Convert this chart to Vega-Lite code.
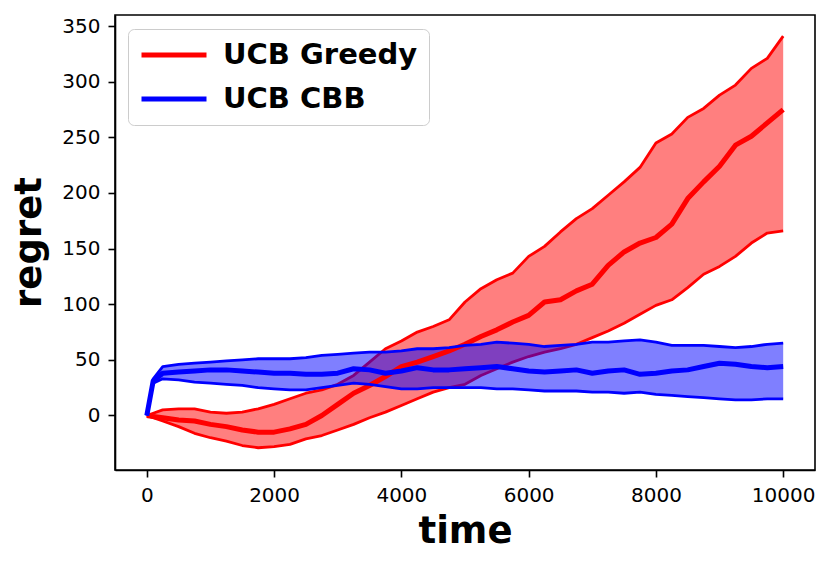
{
  "$schema": "https://vega.github.io/schema/vega-lite/v6.json",
  "width": 700,
  "height": 455,
  "autosize": "none",
  "padding": {"left": 115, "top": 15, "right": 16, "bottom": 95},
  "background": "white",
  "config": {
    "view": {"stroke": "black", "strokeWidth": 1.6},
    "font": "DejaVu Sans",
    "axis": {
      "grid": false,
      "domainColor": "black",
      "domainWidth": 1.6,
      "tickColor": "black",
      "tickWidth": 1.6,
      "tickSize": 7,
      "labelFont": "DejaVu Sans",
      "labelFontSize": 20,
      "labelColor": "black",
      "labelPadding": 8,
      "titleFont": "DejaVu Sans",
      "titleFontSize": 37,
      "titleFontWeight": "bold",
      "titleColor": "black"
    }
  },
  "data": {
    "values": [
      {"t": 0, "alg": "UCB Greedy", "mean": 0, "lo": 0, "hi": 0},
      {"t": 100, "alg": "UCB Greedy", "mean": -1, "lo": -2, "hi": 2},
      {"t": 250, "alg": "UCB Greedy", "mean": -2, "lo": -5, "hi": 5},
      {"t": 500, "alg": "UCB Greedy", "mean": -4, "lo": -10, "hi": 6},
      {"t": 750, "alg": "UCB Greedy", "mean": -5, "lo": -16, "hi": 6},
      {"t": 1000, "alg": "UCB Greedy", "mean": -8, "lo": -20, "hi": 3},
      {"t": 1250, "alg": "UCB Greedy", "mean": -10, "lo": -23, "hi": 2},
      {"t": 1500, "alg": "UCB Greedy", "mean": -13, "lo": -27, "hi": 3},
      {"t": 1750, "alg": "UCB Greedy", "mean": -15, "lo": -29, "hi": 6},
      {"t": 2000, "alg": "UCB Greedy", "mean": -15, "lo": -28, "hi": 10},
      {"t": 2250, "alg": "UCB Greedy", "mean": -12, "lo": -26, "hi": 15},
      {"t": 2500, "alg": "UCB Greedy", "mean": -8, "lo": -21, "hi": 20},
      {"t": 2750, "alg": "UCB Greedy", "mean": 0, "lo": -18, "hi": 23},
      {"t": 3000, "alg": "UCB Greedy", "mean": 10, "lo": -13, "hi": 28},
      {"t": 3250, "alg": "UCB Greedy", "mean": 20, "lo": -8, "hi": 36},
      {"t": 3500, "alg": "UCB Greedy", "mean": 27, "lo": -2, "hi": 48},
      {"t": 3750, "alg": "UCB Greedy", "mean": 35, "lo": 3, "hi": 60},
      {"t": 4000, "alg": "UCB Greedy", "mean": 44, "lo": 9, "hi": 67},
      {"t": 4250, "alg": "UCB Greedy", "mean": 48, "lo": 15, "hi": 75},
      {"t": 4500, "alg": "UCB Greedy", "mean": 53, "lo": 21, "hi": 80},
      {"t": 4750, "alg": "UCB Greedy", "mean": 58, "lo": 25, "hi": 86},
      {"t": 5000, "alg": "UCB Greedy", "mean": 64, "lo": 28, "hi": 102},
      {"t": 5250, "alg": "UCB Greedy", "mean": 71, "lo": 36, "hi": 114},
      {"t": 5500, "alg": "UCB Greedy", "mean": 77, "lo": 42, "hi": 122},
      {"t": 5750, "alg": "UCB Greedy", "mean": 84, "lo": 48, "hi": 128},
      {"t": 6000, "alg": "UCB Greedy", "mean": 90, "lo": 53, "hi": 143},
      {"t": 6250, "alg": "UCB Greedy", "mean": 102, "lo": 57, "hi": 152},
      {"t": 6500, "alg": "UCB Greedy", "mean": 104, "lo": 60, "hi": 165},
      {"t": 6750, "alg": "UCB Greedy", "mean": 112, "lo": 64, "hi": 177},
      {"t": 7000, "alg": "UCB Greedy", "mean": 118, "lo": 70, "hi": 186},
      {"t": 7250, "alg": "UCB Greedy", "mean": 135, "lo": 76, "hi": 198},
      {"t": 7500, "alg": "UCB Greedy", "mean": 147, "lo": 83, "hi": 210},
      {"t": 7750, "alg": "UCB Greedy", "mean": 155, "lo": 91, "hi": 223},
      {"t": 8000, "alg": "UCB Greedy", "mean": 160, "lo": 99, "hi": 245},
      {"t": 8250, "alg": "UCB Greedy", "mean": 172, "lo": 104, "hi": 253},
      {"t": 8500, "alg": "UCB Greedy", "mean": 195, "lo": 115, "hi": 268},
      {"t": 8750, "alg": "UCB Greedy", "mean": 210, "lo": 127, "hi": 276},
      {"t": 9000, "alg": "UCB Greedy", "mean": 224, "lo": 134, "hi": 288},
      {"t": 9250, "alg": "UCB Greedy", "mean": 243, "lo": 143, "hi": 297},
      {"t": 9500, "alg": "UCB Greedy", "mean": 251, "lo": 155, "hi": 312},
      {"t": 9750, "alg": "UCB Greedy", "mean": 263, "lo": 164, "hi": 321},
      {"t": 10000, "alg": "UCB Greedy", "mean": 275, "lo": 166, "hi": 341},
      {"t": 0, "alg": "UCB CBB", "mean": 0, "lo": 0, "hi": 0},
      {"t": 100, "alg": "UCB CBB", "mean": 31, "lo": 29, "hi": 33},
      {"t": 250, "alg": "UCB CBB", "mean": 38, "lo": 33, "hi": 44},
      {"t": 500, "alg": "UCB CBB", "mean": 39, "lo": 32, "hi": 46},
      {"t": 750, "alg": "UCB CBB", "mean": 40, "lo": 30, "hi": 47},
      {"t": 1000, "alg": "UCB CBB", "mean": 41, "lo": 29, "hi": 48},
      {"t": 1250, "alg": "UCB CBB", "mean": 41, "lo": 28, "hi": 49},
      {"t": 1500, "alg": "UCB CBB", "mean": 40, "lo": 27, "hi": 50},
      {"t": 1750, "alg": "UCB CBB", "mean": 39, "lo": 25, "hi": 51},
      {"t": 2000, "alg": "UCB CBB", "mean": 38, "lo": 24, "hi": 51},
      {"t": 2250, "alg": "UCB CBB", "mean": 38, "lo": 23, "hi": 51},
      {"t": 2500, "alg": "UCB CBB", "mean": 37, "lo": 23, "hi": 52},
      {"t": 2750, "alg": "UCB CBB", "mean": 37, "lo": 25, "hi": 54},
      {"t": 3000, "alg": "UCB CBB", "mean": 38, "lo": 27, "hi": 55},
      {"t": 3250, "alg": "UCB CBB", "mean": 42, "lo": 29, "hi": 56},
      {"t": 3500, "alg": "UCB CBB", "mean": 41, "lo": 28, "hi": 57},
      {"t": 3750, "alg": "UCB CBB", "mean": 38, "lo": 26, "hi": 57},
      {"t": 4000, "alg": "UCB CBB", "mean": 40, "lo": 24, "hi": 58},
      {"t": 4250, "alg": "UCB CBB", "mean": 43, "lo": 24, "hi": 60},
      {"t": 4500, "alg": "UCB CBB", "mean": 41, "lo": 25, "hi": 60},
      {"t": 4750, "alg": "UCB CBB", "mean": 41, "lo": 25, "hi": 61},
      {"t": 5000, "alg": "UCB CBB", "mean": 42, "lo": 25, "hi": 63},
      {"t": 5250, "alg": "UCB CBB", "mean": 43, "lo": 25, "hi": 64},
      {"t": 5500, "alg": "UCB CBB", "mean": 44, "lo": 24, "hi": 66},
      {"t": 5750, "alg": "UCB CBB", "mean": 42, "lo": 24, "hi": 65},
      {"t": 6000, "alg": "UCB CBB", "mean": 40, "lo": 23, "hi": 64},
      {"t": 6250, "alg": "UCB CBB", "mean": 39, "lo": 22, "hi": 62},
      {"t": 6500, "alg": "UCB CBB", "mean": 40, "lo": 22, "hi": 63},
      {"t": 6750, "alg": "UCB CBB", "mean": 41, "lo": 22, "hi": 64},
      {"t": 7000, "alg": "UCB CBB", "mean": 38, "lo": 21, "hi": 66},
      {"t": 7250, "alg": "UCB CBB", "mean": 40, "lo": 21, "hi": 66},
      {"t": 7500, "alg": "UCB CBB", "mean": 41, "lo": 20, "hi": 67},
      {"t": 7750, "alg": "UCB CBB", "mean": 37, "lo": 21, "hi": 68},
      {"t": 8000, "alg": "UCB CBB", "mean": 38, "lo": 19, "hi": 66},
      {"t": 8250, "alg": "UCB CBB", "mean": 40, "lo": 18, "hi": 63},
      {"t": 8500, "alg": "UCB CBB", "mean": 41, "lo": 17, "hi": 63},
      {"t": 8750, "alg": "UCB CBB", "mean": 44, "lo": 16, "hi": 63},
      {"t": 9000, "alg": "UCB CBB", "mean": 47, "lo": 15, "hi": 62},
      {"t": 9250, "alg": "UCB CBB", "mean": 46, "lo": 14, "hi": 61},
      {"t": 9500, "alg": "UCB CBB", "mean": 44, "lo": 14, "hi": 62},
      {"t": 9750, "alg": "UCB CBB", "mean": 43, "lo": 15, "hi": 64},
      {"t": 10000, "alg": "UCB CBB", "mean": 44, "lo": 15, "hi": 65}
    ]
  },
  "encoding": {
    "x": {
      "field": "t", "type": "quantitative",
      "scale": {"domain": [-500, 10500], "nice": false, "zero": false},
      "axis": {"values": [0, 2000, 4000, 6000, 8000, 10000], "title": "time", "titleY": 72, "titleBaseline": "alphabetic", "format": "d"}
    }
  },
  "layer": [
    {
      "transform": [{"filter": "datum.alg === 'UCB Greedy'"}],
      "mark": {"type": "area", "color": "red", "opacity": 0.5},
      "encoding": {
        "y": {
          "field": "lo", "type": "quantitative",
          "scale": {"domain": [-49, 360], "nice": false, "zero": false},
          "axis": {"values": [0, 50, 100, 150, 200, 250, 300, 350], "title": "regret", "titleX": -75, "titleY": 227, "titleAngle": -90, "titleBaseline": "alphabetic", "titleAlign": "center"}
        },
        "y2": {"field": "hi"}
      }
    },
    {
      "transform": [{"filter": "datum.alg === 'UCB Greedy'"}],
      "mark": {"type": "line", "color": "red", "strokeWidth": 2.8, "strokeJoin": "round"},
      "encoding": {"y": {"field": "lo", "type": "quantitative"}}
    },
    {
      "transform": [{"filter": "datum.alg === 'UCB Greedy'"}],
      "mark": {"type": "line", "color": "red", "strokeWidth": 2.8, "strokeJoin": "round"},
      "encoding": {"y": {"field": "hi", "type": "quantitative"}}
    },
    {
      "transform": [{"filter": "datum.alg === 'UCB CBB'"}],
      "mark": {"type": "area", "color": "blue", "opacity": 0.5},
      "encoding": {
        "y": {"field": "lo", "type": "quantitative"},
        "y2": {"field": "hi"}
      }
    },
    {
      "transform": [{"filter": "datum.alg === 'UCB Greedy'"}],
      "mark": {"type": "line", "strokeWidth": 5, "strokeJoin": "round"},
      "encoding": {
        "y": {"field": "mean", "type": "quantitative"},
        "color": {
          "field": "alg", "type": "nominal",
          "scale": {"domain": ["UCB Greedy", "UCB CBB"], "range": ["red", "blue"]},
          "legend": {
            "title": null,
            "orient": "none",
            "legendX": 13,
            "legendY": 14,
            "symbolType": "stroke",
            "symbolSize": 4225,
            "symbolStrokeWidth": 5,
            "clipHeight": 30,
            "rowPadding": 14,
            "labelOffset": 14,
            "labelLimit": 400,
            "labelFont": "DejaVu Sans",
            "labelFontSize": 29,
            "labelFontWeight": "bold",
            "labelColor": "black",
            "padding": 11,
            "strokeColor": "#cccccc",
            "fillColor": "rgba(255,255,255,0.8)",
            "cornerRadius": 6
          }
        }
      }
    },
    {
      "transform": [{"filter": "datum.alg === 'UCB CBB'"}],
      "mark": {"type": "line", "color": "blue", "strokeWidth": 2.8, "strokeJoin": "round"},
      "encoding": {"y": {"field": "lo", "type": "quantitative"}}
    },
    {
      "transform": [{"filter": "datum.alg === 'UCB CBB'"}],
      "mark": {"type": "line", "color": "blue", "strokeWidth": 2.8, "strokeJoin": "round"},
      "encoding": {"y": {"field": "hi", "type": "quantitative"}}
    },
    {
      "transform": [{"filter": "datum.alg === 'UCB CBB'"}],
      "mark": {"type": "line", "strokeWidth": 5, "strokeJoin": "round"},
      "encoding": {
        "y": {"field": "mean", "type": "quantitative"},
        "color": {"field": "alg", "type": "nominal"}
      }
    }
  ]
}
